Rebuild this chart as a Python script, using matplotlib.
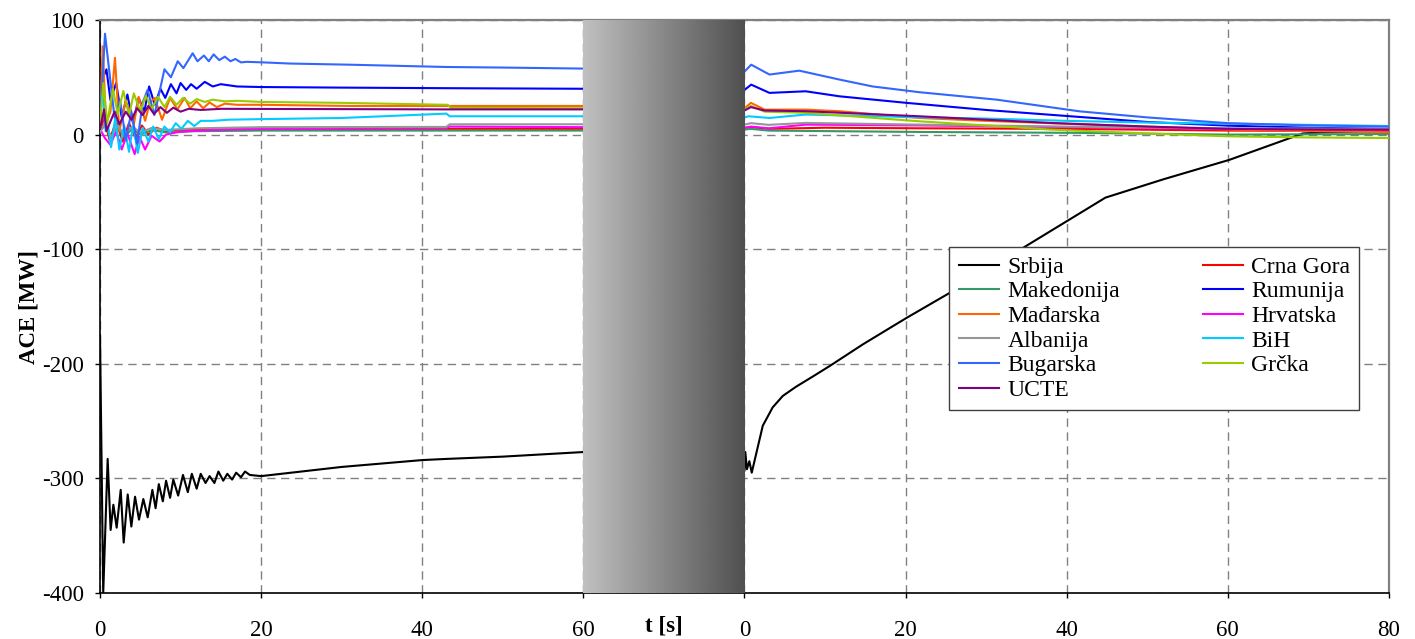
import numpy as np
import matplotlib
matplotlib.use("Agg")
import matplotlib.pyplot as plt
from matplotlib.transforms import blended_transform_factory

plt.rcParams['font.family'] = ['Liberation Serif', 'DejaVu Serif']

# second time window is drawn after a 20 s wide shaded gap
SHIFT = 80

# ---- data: first window (t, ACE) ----
srbija_t1 = [0, 0.4, 0.95, 1.32, 1.66, 2.07, 2.57, 2.94, 3.44, 3.89, 4.35, 4.84, 5.38, 5.92,
             6.5, 6.9, 7.3, 7.8, 8.2, 8.7, 9.1, 9.7, 10.3, 10.9, 11.4, 12.0, 12.5, 13.1, 13.6,
             14.2, 14.7, 15.3, 15.8, 16.4, 16.9, 17.5, 18.0, 18.6, 20, 25, 30, 35, 40, 43, 50, 55, 60]
srbija_v1 = [-175, -400, -283, -345, -323, -343, -310, -356, -314, -342, -316, -336, -318, -334,
             -310, -326, -305, -320, -302, -317, -301, -315, -297, -312, -296, -309, -296, -304, -298,
             -304, -294, -302, -296, -301, -295, -299, -294, -297, -298, -294, -290, -287, -284, -283,
             -281, -279, -277]
crna_gora_t1 = [0, 0.5, 1.2, 2.0, 2.8, 3.6, 4.4, 5.2, 6.0, 7.0, 8.5, 10, 14, 20, 43, 60]
crna_gora_v1 = [2, 15, -5, 12, -6, 10, -3, 8, 0, 6, 2, 4, 4.5, 5, 5, 5]
makedonija_t1 = [0, 0.6, 1.4, 2.2, 3.0, 4.0, 5.0, 6.5, 8, 12, 20, 43, 60]
makedonija_v1 = [3, 8, -3, 6, -2, 5, 0, 4, 2, 3, 3.5, 3.5, 3.5]
rumunija_t1 = [0, 0.4, 0.8, 1.3, 2.0, 2.7, 3.4, 4.1, 4.8, 5.5, 6.1, 6.8, 7.5, 8.1, 8.8, 9.5,
               10.0, 10.7, 11.3, 12.0, 13.0, 14.0, 15.0, 17.0, 20.0, 30.0, 43, 60]
rumunija_v1 = [20, 50, 57, 30, 45, 15, 35, 10, 32, 20, 42, 26, 40, 32, 44, 36,
               45, 39, 44, 40, 46, 42, 44, 42, 41.5, 41, 40.5, 40]
madjarska_t1 = [0, 0.33, 0.75, 1.3, 1.86, 2.4, 3.2, 4.2, 4.8, 5.6, 6.2, 6.8, 7.7, 8.7, 9.6,
                10.5, 11.2, 12.0, 12.8, 13.6, 14.5, 15.5, 17, 20, 31, 43, 60]
madjarska_v1 = [5, 77, 10, 20, 67, 3, 30, 9, 33, 12, 28, 32, 13, 32, 22,
                32, 23, 29, 23, 28, 24, 27, 26, 26, 25, 25, 25]
hrvatska_t1 = [0, 0.6, 1.3, 2.0, 2.7, 3.4, 4.3, 4.9, 5.6, 6.4, 7.4, 8.2, 9.5, 11, 14, 20, 43, 43.4, 60]
hrvatska_v1 = [5, -3, -9, 3, -13, 1, -17, -2, -13, -1, -6, 0, 2, 3, 4, 5, 5.8, 7, 6.5]
albanija_t1 = [0, 0.6, 1.4, 2.2, 3.0, 4.0, 5.0, 6.5, 8, 12, 20, 43, 43.4, 60]
albanija_v1 = [2, 10, -2, 8, 0, 7, 2, 6, 4, 5.5, 6.5, 6.7, 9, 9]
bih_t1 = [0, 0.3, 0.7, 1.0, 1.37, 1.9, 2.4, 3.0, 3.6, 4.1, 4.7, 5.3, 6.0, 6.6, 7.3, 8.0, 8.7,
          9.4, 10.1, 10.9, 11.7, 12.5, 14, 16, 20, 30, 43, 43.4, 60]
bih_v1 = [30, 37, 3, 8, -11, 15, -13, 8, -15, 8, -16, 6, -6, 7, -4, 7, 2,
          10, 5, 12, 7.5, 12, 12, 13, 13.5, 14.5, 18.3, 16, 16]
bugarska_t1 = [0, 0.25, 0.62, 1.16, 1.8, 2.5, 3.2, 3.9, 4.6, 5.3, 5.9, 6.75, 8.0, 8.8, 9.65,
               10.35, 11.5, 12.1, 12.9, 13.5, 14.1, 14.8, 15.5, 16.2, 16.8, 17.5, 18.2, 20.3,
               23.6, 31, 43, 50, 60]
bugarska_v1 = [20, 40, 88, 55, 15, 30, -5, 20, -8, 28, 39, 17, 57, 50, 64,
               58, 71, 64, 69, 64, 70, 65, 68, 64, 66, 63, 63.5, 63,
               62, 61, 59, 58.5, 57.6]
grcka_t1 = [0, 0.41, 0.9, 1.6, 2.2, 2.9, 3.6, 4.2, 5.0, 5.7, 6.4, 7.2, 8.0, 8.7, 9.5, 10.3,
            11.2, 12.0, 13.0, 14.0, 15.5, 17.0, 20.0, 30.0, 43.2, 43.5, 60]
grcka_v1 = [8, 45, 10, 40, 18, 38, 17, 36, 20, 34, 22, 33, 24, 33, 26, 32,
            27, 31, 28.5, 30.5, 29, 29.5, 28.5, 27.7, 26, 23.3, 23]
ucte_t1 = [0, 0.5, 0.8, 1.8, 2.4, 3.2, 3.9, 4.6, 5.3, 6.0, 6.7, 7.5, 8.3, 9.1, 10.0, 11.0,
           12.5, 15, 20, 43, 60]
ucte_v1 = [5, 22, 3, 20, 9, 20, 13, 23, 17, 25, 18, 24, 19, 23.5, 20, 22.5,
           21.5, 22.5, 22.4, 22, 22]

# ---- data: second window (t, ACE) ----
srbija_t2 = [0, 0.1, 0.3, 0.6, 0.9, 2.27, 3.5, 4.76, 6.4, 8.5, 10.56, 14.7, 20.1, 25.5, 35,
             44.8, 52, 60.2, 69.3, 72, 80]
srbija_v2 = [-293, -277, -292, -285, -295, -254, -238, -228, -220, -211, -202, -183, -160, -138,
             -97, -55, -39, -22, 1, 2, 3]
crna_gora_t2 = [0, 0.8, 3, 10, 21.7, 40, 60, 80]
crna_gora_v2 = [5.8, 6.5, 5, 6, 5.5, 5, 3.5, 3]
makedonija_t2 = [0, 0.8, 3, 21.7, 41.6, 60, 80]
makedonija_v2 = [4.4, 5, 3.5, 2.3, 1.5, 0, 0.5]
rumunija_t2 = [0, 0.83, 3.1, 7.6, 11.8, 20.1, 30, 41.6, 50, 60, 70, 80]
rumunija_v2 = [39, 43.6, 36.4, 37.8, 33.4, 27.7, 21.5, 15.4, 11, 7.8, 6, 5]
madjarska_t2 = [0, 0.8, 2.5, 7.6, 11.8, 21.7, 30, 41.6, 50, 60, 70, 80]
madjarska_v2 = [23, 27.7, 21.8, 21.8, 20.4, 14.5, 12, 9, 7, 4.5, 3, 2]
hrvatska_t2 = [0, 0.8, 3, 7.6, 21.7, 40, 60, 80]
hrvatska_v2 = [6, 7, 5.5, 8.7, 8, 6.5, 5, 4]
albanija_t2 = [0, 0.8, 3, 7.6, 21.7, 40, 60, 80]
albanija_v2 = [8.7, 10, 8.5, 10.2, 8.7, 7, 5.5, 5]
bih_t2 = [0, 0.5, 3.1, 7.6, 21.7, 30, 40, 50, 60, 70, 80]
bih_v2 = [15, 16, 14.5, 17.5, 15.1, 14, 12, 10.5, 9.5, 8.5, 7.5]
bugarska_t2 = [0, 0.83, 3.1, 6.8, 11.8, 15.9, 20.1, 21.7, 31.3, 41.6, 50, 60, 70, 80]
bugarska_v2 = [55, 61, 52.4, 55.8, 48, 42, 38.4, 37, 30.5, 20.3, 15, 10, 8, 7]
grcka_t2 = [0, 0.8, 2.5, 7.6, 21.7, 30, 37.9, 50, 60, 70, 80]
grcka_v2 = [22, 25, 20, 19, 11.6, 8, 4.4, 1, -1.5, -2.5, -3]
ucte_t2 = [0, 0.8, 2.5, 7.6, 21.7, 30, 37.9, 50, 60, 70, 80]
ucte_v2 = [21, 24, 21, 20.4, 16, 13, 10.2, 7, 5, 4.5, 4.4]

x_ticks = [0, 20, 40, 60, 80, 100, 120, 140, 160]
x_tick_labels = ['0', '20', '40', '60', '0', '20', '40', '60', '80']
y_ticks = [-400, -300, -200, -100, 0, 100]
y_tick_labels = ['-400', '-300', '-200', '-100', '0', '100']

series = [
    ('Srbija', '#000000', srbija_t1, srbija_v1, srbija_t2, srbija_v2),
    ('Crna Gora', '#ff0000', crna_gora_t1, crna_gora_v1, crna_gora_t2, crna_gora_v2),
    ('Makedonija', '#339966', makedonija_t1, makedonija_v1, makedonija_t2, makedonija_v2),
    ('Rumunija', '#0000ff', rumunija_t1, rumunija_v1, rumunija_t2, rumunija_v2),
    ('Mađarska', '#ff6600', madjarska_t1, madjarska_v1, madjarska_t2, madjarska_v2),
    ('Hrvatska', '#ff00ff', hrvatska_t1, hrvatska_v1, hrvatska_t2, hrvatska_v2),
    ('Albanija', '#969696', albanija_t1, albanija_v1, albanija_t2, albanija_v2),
    ('BiH', '#00ccff', bih_t1, bih_v1, bih_t2, bih_v2),
    ('Bugarska', '#3366ff', bugarska_t1, bugarska_v1, bugarska_t2, bugarska_v2),
    ('Grčka', '#99cc00', grcka_t1, grcka_v1, grcka_t2, grcka_v2),
    ('UCTE', '#800080', ucte_t1, ucte_v1, ucte_t2, ucte_v2),
]

FS = 16.5

# ---- figure ----
fig = plt.figure(figsize=(14.15, 6.39), dpi=100)
ax = fig.add_axes([100 / 1415, 46 / 639, 1289 / 1415, 573 / 639])

handles = {}
for name, color, t1, v1, t2, v2 in series:
    ax.plot(t1, v1, color=color, lw=1.5, solid_joinstyle='round', zorder=3)
    ln, = ax.plot(np.asarray(t2) + SHIFT, v2, color=color, lw=1.5,
                  solid_joinstyle='round', zorder=3, label=name)
    handles[name] = ln

# shaded gap between the two windows
grad = np.linspace(192, 80, 256)[None, :]
ax.imshow(grad, cmap='gray', vmin=0, vmax=255, extent=(60, 80, -400, 100),
          aspect='auto', zorder=4, interpolation='bilinear')

ax.set_xlim(0, 160)
ax.set_ylim(-400, 100)
ax.set_xticks(x_ticks)
ax.set_xticklabels(x_tick_labels)
ax.set_yticks(y_ticks)
ax.set_yticklabels(y_tick_labels)
ax.tick_params(direction='out', length=3.6, width=1, labelsize=FS, colors='black')
ax.tick_params(axis='x', pad=16)
ax.tick_params(axis='y', pad=8)

ax.grid(True, color='#808080', linestyle=(0, (6, 4)), linewidth=1, zorder=1)
ax.set_axisbelow(True)

for side in ('left', 'bottom'):
    ax.spines[side].set_color('black')
    ax.spines[side].set_linewidth(1.2)
for side in ('top', 'right'):
    ax.spines[side].set_color('#808080')
    ax.spines[side].set_linewidth(1.6)

ax.set_ylabel('ACE [MW]', fontsize=FS, fontweight='bold')
ax.yaxis.set_label_coords(-0.047, 0.5)

trans = blended_transform_factory(ax.transData, ax.transAxes)
ax.text(70, -0.04, 't [s]', transform=trans, ha='center', va='top',
        fontsize=FS, fontweight='bold')

# legend filled column by column
legend_order = ['Srbija', 'Makedonija', 'Mađarska', 'Albanija', 'Bugarska', 'UCTE',
                'Crna Gora', 'Rumunija', 'Hrvatska', 'BiH', 'Grčka']
leg = ax.legend([handles[n] for n in legend_order], legend_order, ncol=2,
                loc='upper left', bbox_to_anchor=(0.659, 0.604), borderaxespad=0,
                fontsize=17, frameon=True, fancybox=False, framealpha=1,
                edgecolor='#404040', handlelength=1.7, handletextpad=0.35,
                columnspacing=3.5, labelspacing=0.13, borderpad=0.4)
leg.get_frame().set_linewidth(1.0)
leg.set_zorder(5)

fig.savefig('out.png', dpi=100, facecolor='white')
